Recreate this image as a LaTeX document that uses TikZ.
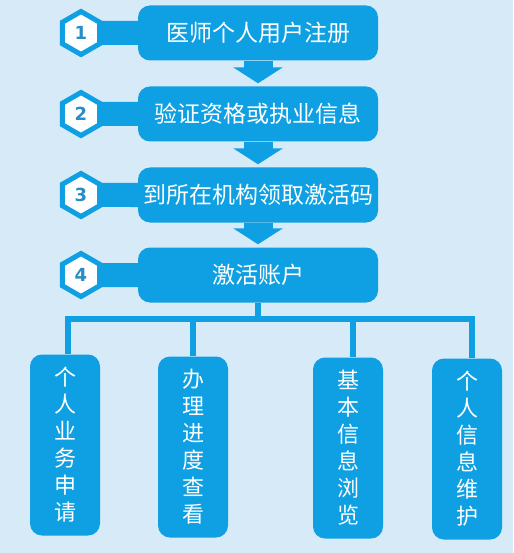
\documentclass[tikz,border=0pt]{standalone}
\usepackage{fontspec}
\newfontfamily\cjk{Noto Sans CJK SC}
\newfontfamily\numfont{DejaVu Sans}
\usetikzlibrary{arrows.meta,shapes.geometric}
\definecolor{boxblue}{RGB}{14,160,226}
\definecolor{bgblue}{RGB}{214,234,248}
\definecolor{numblue}{RGB}{40,140,200}

\begin{document}
\begin{tikzpicture}[x=1pt,y=-1pt,
  stepbox/.style={fill=boxblue,rounded corners=12pt,minimum width=240pt,minimum height=55pt,
    inner sep=2pt,text=white,font=\cjk\fontsize{23}{23}\selectfont},
  badge/.style={regular polygon,regular polygon sides=6,shape border rotate=30,minimum size=43pt,
    inner sep=0pt,draw=boxblue,line width=5pt,fill=white,text=numblue,
    font=\numfont\bfseries\fontsize{18}{18}\selectfont},
  link/.style={boxblue,line width=24pt},
  flow/.style={boxblue,line width=29pt,-{Triangle[width=49pt,length=16pt]},shorten >=3pt},
  branch/.style={boxblue,line width=6pt},
  leaf/.style={fill=boxblue,rounded corners=12pt,minimum width=70pt,minimum height=181pt,
    text=white,align=center,font=\cjk\fontsize{22}{27}\selectfont}]
  \fill[bgblue] (0,0) rectangle (513,553);
  \useasboundingbox (0,0) rectangle (513,553);

  \node[stepbox] (S1) at (258,33) {医师个人用户注册};
  \node[stepbox] (S2) at (258,114) {验证资格或执业信息};
  \node[stepbox] (S3) at (258,195) {到所在机构领取激活码};
  \node[stepbox] (S4) at (258,275) {激活账户};

  \node[badge] (H1) at (81,33) {1};
  \node[badge] (H2) at (81,114) {2};
  \node[badge] (H3) at (81,195) {3};
  \node[badge] (H4) at (81,275) {4};

  \draw[link] (H1) -- (S1);
  \draw[link] (H2) -- (S2);
  \draw[link] (H3) -- (S3);
  \draw[link] (H4) -- (S4);

  \draw[flow] (S1) -- (S2);
  \draw[flow] (S2) -- (S3);
  \draw[flow] (S3) -- (S4);

  \node[leaf] (L1) at (65,445) {个\\人\\业\\务\\申\\请};
  \node[leaf] (L2) at (193,447) {办\\理\\进\\度\\查\\看};
  \node[leaf] (L3) at (348,448) {基\\本\\信\\息\\浏\\览};
  \node[leaf] (L4) at (467,449) {个\\人\\信\\息\\维\\护};

  \coordinate (J) at (258,319);
  \draw[branch] (S4) -- (J);
  \draw[branch] (J) -| ([xshift=3pt]L1.north);
  \draw[branch] (J) -| (L2.north);
  \draw[branch] (J) -| ([xshift=5pt]L3.north);
  \draw[branch] (J) -| ([xshift=5pt]L4.north);
\end{tikzpicture}
\end{document}
